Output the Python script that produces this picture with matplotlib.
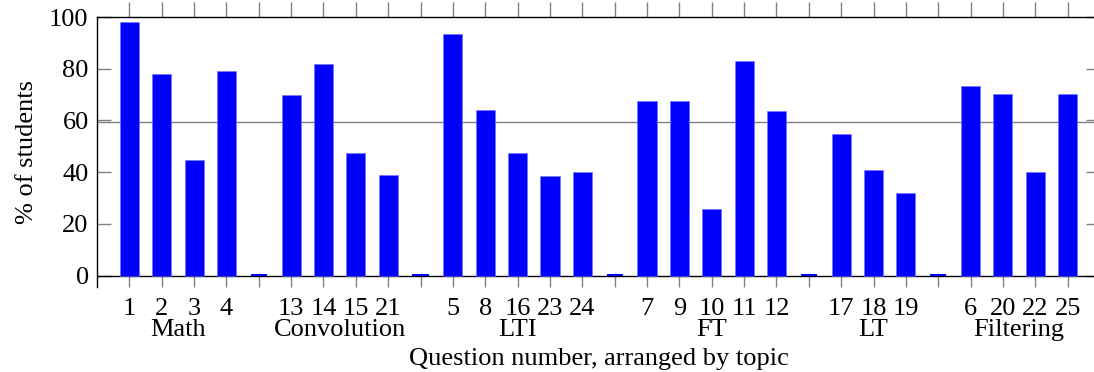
import matplotlib
matplotlib.use("Agg")
import matplotlib.pyplot as plt
import matplotlib.transforms as mtransforms

# ---- data ----
topics = ["Math", "Convolution", "LTI", "FT", "LT", "Filtering"]
questions = [
    ["1", "2", "3", "4"],
    ["13", "14", "15", "21"],
    ["5", "8", "16", "23", "24"],
    ["7", "9", "10", "11", "12"],
    ["17", "18", "19"],
    ["6", "20", "22", "25"],
]
values = [
    [98.0, 78.1, 44.9, 79.2],
    [69.7, 82.0, 47.6, 38.8],
    [93.4, 63.9, 47.6, 38.4, 39.9],
    [67.6, 67.7, 25.9, 83.0, 63.5],
    [54.7, 40.7, 32.0],
    [73.4, 70.4, 40.0, 70.2],
]
gap_value = 0.8
reference_line = 59.3

plt.rcParams['font.family'] = ['Liberation Serif', 'DejaVu Serif']
plt.rcParams['mathtext.fontset'] = 'stix'

fig = plt.figure(figsize=(10.94, 3.72), dpi=100)
W, H = 1094, 372
left, right, top, bottom = 97, 1100, 17, 287
ax = fig.add_axes([left / W, 1 - bottom / H, (right - left) / W, (bottom - top) / H])

pos = 0
tick_pos, tick_lab = [], []
group_centers = []
bar_x, bar_h = [], []
gap_x = []
for gi, (qs, vs) in enumerate(zip(questions, values)):
    start = pos
    for q, v in zip(qs, vs):
        bar_x.append(pos)
        bar_h.append(v)
        tick_pos.append(pos)
        tick_lab.append(q)
        pos += 1
    group_centers.append((start + pos - 1) / 2)
    if gi < len(questions) - 1:
        gap_x.append(pos)
        tick_pos.append(pos)
        tick_lab.append("")
        pos += 1

ax.bar(bar_x, bar_h, width=0.59, color="#0000ff", edgecolor="#6f6fff", linewidth=0.4, zorder=3)
ax.bar(gap_x, [gap_value] * len(gap_x), width=0.5, color="#0000ff", zorder=3)
ax.axhline(0, color="black", lw=1.0, zorder=2)
ax.axhline(reference_line, color="#808080", lw=1.0, zorder=2)

ax.set_xlim(-1, pos)
ax.set_ylim(-4.4, 100)
ax.set_yticks([0, 20, 40, 60, 80, 100])
ax.set_xticks(tick_pos)
ax.set_xticklabels(tick_lab)

fs = 19
ax.tick_params(axis='y', which='both', direction='in', length=10, width=1, color='#808080',
               left=True, right=True, labelsize=fs, pad=6)
ax.tick_params(axis='x', which='both', direction='in', length=10, width=1, color='#808080',
               bottom=True, top=False, labelsize=fs, pad=8)
for sp in ['bottom', 'right']:
    ax.spines[sp].set_visible(False)
for sp in ['left', 'top']:
    ax.spines[sp].set_linewidth(1.0)

# top ticks pointing outward
sec = ax.secondary_xaxis('top')
sec.set_xticks(tick_pos)
sec.set_xticklabels([])
sec.tick_params(direction='out', length=11, width=1, color='#808080')
sec.spines['top'].set_visible(False)

trans = mtransforms.blended_transform_factory(ax.transData, ax.transAxes)
for c, t in zip(group_centers, topics):
    ax.text(c, -0.16, t, transform=trans, ha='center', va='center', fontsize=fs)

ax.set_xlabel("Question number, arranged by topic", fontsize=fs, labelpad=20)
ax.set_ylabel("% of students", fontsize=fs, labelpad=8)

fig.savefig("out.png", dpi=100)
